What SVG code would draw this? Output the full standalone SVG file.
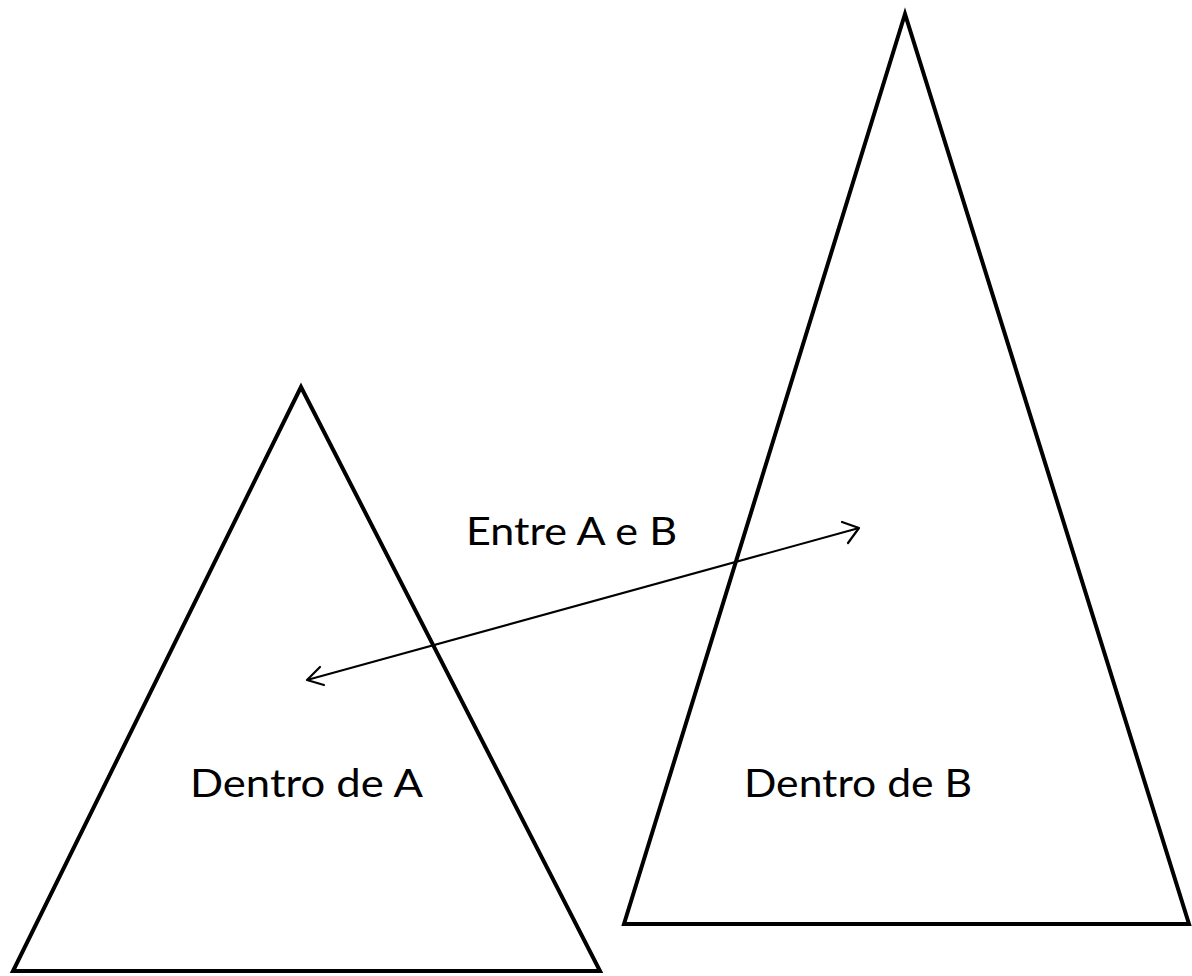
<svg xmlns="http://www.w3.org/2000/svg" width="1192" height="976" viewBox="0 0 1192 976">
<style>
.tri{fill:none;stroke:#000;stroke-width:4;stroke-linejoin:miter;stroke-miterlimit:20}
.lbl{font-family:Lato,"Open Sans","Liberation Sans",sans-serif;font-size:38px;fill:#000}
.conn{stroke:#000;stroke-width:2;fill:none}
.ah{fill:none;stroke:#000;stroke-width:2.2;stroke-linecap:round;stroke-linejoin:round}
</style>
<rect width="1192" height="976" fill="#fff"/>
<g id="triA">
<polygon class="tri" points="301,387 13,971 600,971"/>
<text class="lbl" x="190" y="797" textLength="233" lengthAdjust="spacingAndGlyphs">Dentro de A</text>
</g>
<g id="triB">
<polygon class="tri" points="905,14 624,924 1189,924"/>
<text class="lbl" x="744" y="797" textLength="228" lengthAdjust="spacingAndGlyphs">Dentro de B</text>
</g>
<g id="connectors">
<line class="conn" x1="307" y1="680" x2="859" y2="528"/>
<polyline class="ah" points="320,667 307,680 324,685"/>
<polyline class="ah" points="842,522 859,528 848,543"/>
<text class="lbl" x="466" y="545" textLength="211" lengthAdjust="spacingAndGlyphs">Entre A e B</text>
</g>
</svg>
